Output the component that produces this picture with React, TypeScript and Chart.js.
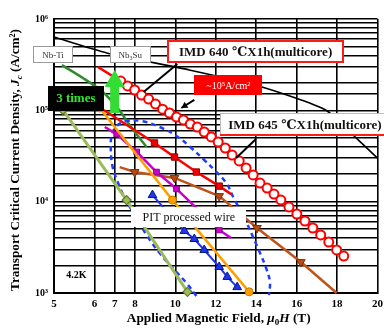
import { useEffect, useRef } from "react";
import { Chart, registerables } from "chart.js";

Chart.register(...registerables);

// ---------- axis ticks ----------
const X_TICK_VALUES = [4, 6, 7, 8, 10, 12, 14, 16, 18, 20];
const X_TICK_LABELS = ["5", "6", "7", "8", "10", "12", "14", "16", "18", "20"];
const Y_TICK_VALUES = [1e3, 1e4, 1e5, 1e6];
const Y_TICK_LABELS = ["10³", "10⁴", "10⁵", "10⁶"];

// ---------- series (B in T, Jc in A/cm2) ----------
const REF_B = [4.0, 6.61, 10.69, 14.28, 17.43, 18.9, 20.0];
const REF_JC = [6.35e5, 4.25e5, 2.77e5, 1.8e5, 1.01e5, 5.1e4, 3.0e4];

const NBTI_B = [4.39, 5.43, 6.41, 7.15, 7.74, 8.23, 8.58];
const NBTI_JC = [3.13e5, 2.26e5, 1.59e5, 1.06e5, 6.9e4, 4.98e4, 3.97e4];

const IMD_B = [6.17, 7.3, 7.64, 7.99, 8.33, 8.68, 9.02, 9.37, 9.71, 10.06, 10.4, 10.74, 11.09, 11.43, 11.78, 12.12, 12.47, 12.81, 13.16, 13.5, 13.85, 14.19, 14.54, 14.88, 15.22, 15.62, 16.01, 16.41, 16.8, 17.19, 17.59, 17.98, 18.33];
const IMD_JC = [2.98e5, 2.09e5, 1.85e5, 1.67e5, 1.47e5, 1.33e5, 1.17e5, 1.03e5, 9.35e4, 8.45e4, 7.84e4, 7.08e4, 6.57e4, 5.79e4, 5.11e4, 4.5e4, 3.87e4, 3.24e4, 2.79e4, 2.34e4, 1.96e4, 1.6e4, 1.41e4, 1.21e4, 1.04e4, 8.75e3, 7.33e3, 6.14e3, 5.15e3, 4.32e3, 3.61e3, 2.96e3, 2.54e3];

const RSQ_B = [6.46, 8.97, 9.96, 11.04, 12.17, 12.76];
const RSQ_JC = [1.01e5, 4.39e4, 3.08e4, 2.11e4, 1.48e4, 1.21e4];

const OLIVE_B = [4.44, 7.59, 10.6];
const OLIVE_JC = [1.01e5, 1.04e4, 1.03e3];

const ORANGE_B = [6.26, 9.86, 13.65];
const ORANGE_JC = [1.06e5, 1.04e4, 1.03e3];

const MAG_B = [6.51, 7.1, 8.09, 9.07, 10.06, 12.17, 12.76];
const MAG_JC = [6.57e4, 5.51e4, 3.5e4, 2.11e4, 1.38e4, 4.9e3, 4.0e3];

const BTRI_B = [8.87, 10.45, 10.94, 11.43, 12.17, 12.57, 13.06];
const BTRI_JC = [1.18e4, 4.78e3, 3.9e3, 2.96e3, 1.93e3, 1.5e3, 1.16e3];

const BROWN_B = [7.25, 7.99, 9.96, 12.17, 14.04, 16.21, 17.98];
const BROWN_JC = [2.39e4, 2.11e4, 1.82e4, 1.15e4, 5.15e3, 2.18e3, 1.0e3];

const PIT_LOOP_B = [11.04, 10.55, 9.96, 9.22, 8.58, 7.99, 7.5, 7.15, 6.9, 6.81, 6.86, 7.1, 7.59, 8.33, 9.22, 10.06, 10.79, 11.43, 11.98, 12.52, 12.91, 13.35, 13.8, 14.19, 14.49, 14.68, 14.63];
const PIT_LOOP_JC = [927, 1285, 1786, 2742, 4315, 7145, 1.1e4, 1.64e4, 2.4e4, 3.68e4, 5.37e4, 6.73e4, 7.64e4, 7.64e4, 6.57e4, 5.24e4, 3.87e4, 2.86e4, 2.17e4, 1.6e4, 1.07e4, 7145, 4315, 2742, 1879, 1318, 950];

// ---------- annotations (data coordinates) ----------
const SERIF = "'Liberation Serif', 'Times New Roman', 'DejaVu Serif', serif";

const LABEL_BOXES = [
  { text: "Nb-Ti", x: 3.95, y: 4.08e5, w: 40, h: 17, fill: "#ffffff", stroke: "#9a9a9a", lw: 1, color: "#333333", font: `9px ${SERIF}` },
  { text: "Nb₃Su", x: 7.77, y: 4.08e5, w: 41, h: 17, fill: "#ffffff", stroke: "#9a9a9a", lw: 1, color: "#333333", font: `9px ${SERIF}` },
  { text: "IMD 640 ℃X1h(multicore)", x: 13.97, y: 4.41e5, w: 177, h: 23, fill: "#ffffff", stroke: "#ff1a1a", lw: 2, color: "#111111", font: `bold 13px ${SERIF}` },
  { text: "~10⁵A/cm²", x: 12.62, y: 1.89e5, w: 68, h: 20, fill: "#ff0000", stroke: "#ff0000", lw: 1, color: "#ffffff", font: `10px ${SERIF}` },
  { text: "IMD 645 ℃X1h(multicore)", x: 16.41, y: 7.0e4, w: 170, h: 23, fill: "#ffffff", stroke: "#bbbbbb", lw: 1, color: "#111111", font: `bold 13px ${SERIF}`, under: "#ff1a1a" },
  { text: "3 times", x: 5.08, y: 1.36e5, w: 56, h: 25, fill: "#000000", stroke: "#000000", lw: 1, color: "#2ee62e", font: `bold 13px ${SERIF}` },
  { text: "PIT processed wire", x: 10.67, y: 6.8e3, w: 115, h: 20, fill: "#ffffff", stroke: "", lw: 0, color: "#111111", font: `12px ${SERIF}` },
];

const POINTER_LINES = [
  { x1: 10.1, y1: 3.21e5, x2: 8.43, y2: 1.59e5, head: false },
  { x1: 10.94, y1: 1.3e5, x2: 10.3, y2: 1.06e5, head: true },
  { x1: 13.99, y1: 4.85e4, x2: 13.01, y2: 3.0e4, head: false },
];

const GREEN_ARROW = { x: 7.0, yBottom: 9.35e4, yTip: 2.77e5 };
const TEMP_LABEL = { text: "4.2K", x: 5.11, y: 1.56e3 };

const zip = (xs: number[], ys: number[]) => xs.map((x, i) => ({ x, y: ys[i] }));
const edgeRadius = (n: number, r: number, skipFirst: boolean, skipLast: boolean) =>
  Array.from({ length: n }, (_, i) => ((skipFirst && i === 0) || (skipLast && i === n - 1) ? 0 : r));

type Part = { t: string; italic?: boolean; sub?: boolean };

function drawRich(ctx: CanvasRenderingContext2D, parts: Part[], cx: number, cy: number, target: number, rotate: boolean) {
  const fontFor = (p: Part, size: number) =>
    `${p.italic ? "italic " : ""}bold ${p.sub ? Math.round(size * 0.7) : size}px ${SERIF}`;
  const measure = (size: number) =>
    parts.reduce((s, p) => {
      ctx.font = fontFor(p, size);
      return s + ctx.measureText(p.t).width;
    }, 0);
  const w12 = measure(12);
  const size = Math.max(9, Math.min(14, (12 * target) / w12));
  const total = measure(size);
  ctx.save();
  ctx.translate(cx, cy);
  if (rotate) ctx.rotate(-Math.PI / 2);
  ctx.textBaseline = "middle";
  ctx.textAlign = "left";
  ctx.fillStyle = "#000";
  let xx = -total / 2;
  for (const p of parts) {
    ctx.font = fontFor(p, size);
    ctx.fillText(p.t, xx, p.sub ? size * 0.3 : 0);
    xx += ctx.measureText(p.t).width;
  }
  ctx.restore();
}

const overlayPlugin = {
  id: "overlay",
  afterDatasetsDraw(chart: any) {
    const ctx: CanvasRenderingContext2D = chart.ctx;
    const xs = chart.scales.x;
    const ys = chart.scales.y;
    const px = (v: number) => xs.getPixelForValue(v);
    const py = (v: number) => ys.getPixelForValue(v);
    ctx.save();

    // pointer lines
    ctx.strokeStyle = "#000";
    ctx.fillStyle = "#000";
    ctx.lineWidth = 2;
    for (const l of POINTER_LINES) {
      const ax = px(l.x1), ay = py(l.y1), bx = px(l.x2), by = py(l.y2);
      ctx.beginPath();
      ctx.moveTo(ax, ay);
      ctx.lineTo(bx, by);
      ctx.stroke();
      if (l.head) {
        const ang = Math.atan2(by - ay, bx - ax);
        const hl = 6, hw = 3.5;
        ctx.beginPath();
        ctx.moveTo(bx, by);
        ctx.lineTo(bx - hl * Math.cos(ang) + hw * Math.sin(ang), by - hl * Math.sin(ang) - hw * Math.cos(ang));
        ctx.lineTo(bx - hl * Math.cos(ang) - hw * Math.sin(ang), by - hl * Math.sin(ang) + hw * Math.cos(ang));
        ctx.closePath();
        ctx.fill();
      }
    }

    // green arrow
    {
      const ax = px(GREEN_ARROW.x);
      const yb = py(GREEN_ARROW.yBottom);
      const yt = py(GREEN_ARROW.yTip);
      const headH = 17, headW = 10, shaftW = 4.5;
      ctx.fillStyle = "#33dd33";
      ctx.beginPath();
      ctx.moveTo(ax - shaftW, yb);
      ctx.lineTo(ax - shaftW, yt + headH);
      ctx.lineTo(ax - headW, yt + headH);
      ctx.lineTo(ax, yt);
      ctx.lineTo(ax + headW, yt + headH);
      ctx.lineTo(ax + shaftW, yt + headH);
      ctx.lineTo(ax + shaftW, yb);
      ctx.closePath();
      ctx.fill();
    }

    // label boxes
    for (const b of LABEL_BOXES) {
      const cx = px(b.x), cy = py(b.y);
      const x0 = Math.round(cx - b.w / 2), y0 = Math.round(cy - b.h / 2);
      ctx.fillStyle = b.fill;
      ctx.fillRect(x0, y0, b.w, b.h);
      if (b.stroke && b.lw) {
        ctx.strokeStyle = b.stroke;
        ctx.lineWidth = b.lw;
        ctx.strokeRect(x0 + b.lw / 2, y0 + b.lw / 2, b.w - b.lw, b.h - b.lw);
      }
      if ((b as any).under) {
        ctx.fillStyle = (b as any).under;
        ctx.fillRect(x0, y0 + b.h - 2, b.w, 2);
      }
      ctx.fillStyle = b.color;
      ctx.font = b.font;
      ctx.textAlign = "center";
      ctx.textBaseline = "middle";
      ctx.fillText(b.text, cx, cy + 1);
    }

    // temperature label
    ctx.fillStyle = "#000";
    ctx.font = `bold 10px ${SERIF}`;
    ctx.textAlign = "center";
    ctx.textBaseline = "middle";
    ctx.fillText(TEMP_LABEL.text, px(TEMP_LABEL.x), py(TEMP_LABEL.y));
    ctx.restore();
  },
  afterDraw(chart: any) {
    const ctx: CanvasRenderingContext2D = chart.ctx;
    const a = chart.chartArea;
    drawRich(
      ctx,
      [
        { t: "Transport Critical Current Density, " },
        { t: "J", italic: true },
        { t: "c", italic: true, sub: true },
        { t: " (A/cm²)" },
      ],
      16,
      (a.top + a.bottom) / 2 + 4,
      262,
      true
    );
    drawRich(
      ctx,
      [
        { t: "Applied Magnetic Field, " },
        { t: "μ", italic: true },
        { t: "0", sub: true },
        { t: "H", italic: true },
        { t: " (T)" },
      ],
      (a.left + a.right) / 2 + 3,
      319,
      184,
      false
    );
  },
};

export default function App() {
  const ref = useRef<HTMLCanvasElement | null>(null);
  useEffect(() => {
    if (!ref.current) return;
    const common = { showLine: true, clip: 8, pointHoverRadius: 0 };
    const chart = new Chart(ref.current, {
      type: "scatter",
      data: {
        datasets: [
          {
            ...common,
            label: "IMD",
            data: zip(IMD_B, IMD_JC),
            borderColor: "#ff0000",
            borderWidth: 2.5,
            pointRadius: edgeRadius(IMD_B.length, 4.5, true, false),
            pointBorderWidth: 2,
            pointBorderColor: "#ff0000",
            pointBackgroundColor: "#ffffff",
          },
          {
            ...common,
            label: "orange",
            data: zip(ORANGE_B, ORANGE_JC),
            borderColor: "#ffa000",
            borderWidth: 2.5,
            pointRadius: 4,
            pointBorderWidth: 1,
            pointBorderColor: "#c87800",
            pointBackgroundColor: "#ffa000",
          },
          {
            ...common,
            label: "olive",
            data: zip(OLIVE_B, OLIVE_JC),
            borderColor: "#9bbb59",
            borderWidth: 3,
            pointStyle: "rectRot",
            pointRadius: 4.5,
            pointBorderWidth: 1.2,
            pointBorderColor: "#5f7a2a",
            pointBackgroundColor: "#9bbb59",
          },
          {
            ...common,
            label: "magenta",
            data: zip(MAG_B, MAG_JC),
            borderColor: "#cc00cc",
            borderWidth: 2.5,
            pointStyle: "rect",
            pointRadius: edgeRadius(MAG_B.length, 4, true, true),
            pointBorderWidth: 1,
            pointBorderColor: "#880088",
            pointBackgroundColor: "#cc00cc",
          },
          {
            ...common,
            label: "red squares",
            data: zip(RSQ_B, RSQ_JC),
            borderColor: "#ff0000",
            borderWidth: 2.5,
            pointStyle: "rect",
            pointRadius: edgeRadius(RSQ_B.length, 4.5, true, true),
            pointBorderWidth: 1,
            pointBorderColor: "#990000",
            pointBackgroundColor: "#ee0000",
          },
          {
            ...common,
            label: "blue triangles",
            data: zip(BTRI_B, BTRI_JC),
            borderColor: "#2233ee",
            borderWidth: 2,
            pointStyle: "triangle",
            pointRadius: 5,
            pointBorderWidth: 1,
            pointBorderColor: "#001a80",
            pointBackgroundColor: "#2233ee",
          },
          {
            ...common,
            label: "brown",
            data: zip(BROWN_B, BROWN_JC),
            borderColor: "#c0531a",
            borderWidth: 2.5,
            pointStyle: "triangle",
            pointRotation: 180,
            pointRadius: edgeRadius(BROWN_B.length, 5, true, true),
            pointBorderWidth: 1,
            pointBorderColor: "#7a3005",
            pointBackgroundColor: "#b84a10",
          },
          {
            ...common,
            label: "PIT loop",
            data: zip(PIT_LOOP_B, PIT_LOOP_JC),
            borderColor: "#1f3cff",
            borderWidth: 2.5,
            borderDash: [5, 4],
            tension: 0.4,
            pointRadius: 0,
          },
          {
            ...common,
            label: "Nb-Ti",
            data: zip(NBTI_B, NBTI_JC),
            borderColor: "#2e8b2e",
            borderWidth: 2.5,
            tension: 0.3,
            pointRadius: 0,
          },
          {
            ...common,
            label: "Nb3Sn",
            data: zip(REF_B, REF_JC),
            borderColor: "#000000",
            borderWidth: 1.6,
            tension: 0.2,
            pointRadius: 0,
          },
        ],
      },
      options: {
        animation: false,
        responsive: false,
        events: [],
        layout: { padding: { left: 0, right: 5, top: 19, bottom: 0 } },
        plugins: { legend: { display: false }, tooltip: { enabled: false }, title: { display: false } },
        scales: {
          x: {
            type: "linear",
            min: 4,
            max: 20,
            afterBuildTicks: (axis: any) => {
              axis.ticks = X_TICK_VALUES.map((v) => ({ value: v }));
            },
            afterFit: (s: any) => {
              s.height = 36;
              s.paddingLeft = 0;
              s.paddingRight = 0;
            },
            grid: { color: "#000", lineWidth: 1.6, drawTicks: false },
            border: { color: "#000", width: 2 },
            ticks: {
              autoSkip: false,
              maxRotation: 0,
              padding: 5,
              color: "#000",
              font: { family: SERIF, weight: "bold", size: 11 },
              callback: (v: any) => {
                const i = X_TICK_VALUES.indexOf(Number(v));
                return i >= 0 ? X_TICK_LABELS[i] : "";
              },
            },
          },
          y: {
            type: "logarithmic",
            min: 1e3,
            max: 1e6,
            afterFit: (s: any) => {
              s.width = 54;
              s.paddingTop = 0;
              s.paddingBottom = 0;
            },
            grid: { color: "#000", lineWidth: 1.6, drawTicks: false },
            border: { color: "#000", width: 2 },
            ticks: {
              autoSkip: false,
              padding: 6,
              color: "#000",
              font: { family: SERIF, weight: "bold", size: 10 },
              callback: (v: any) => {
                const i = Y_TICK_VALUES.findIndex((t) => Math.abs(t - Number(v)) < 1e-6 * t);
                return i >= 0 ? Y_TICK_LABELS[i] : "";
              },
            },
          },
        },
      } as any,
      plugins: [overlayPlugin],
    });
    return () => chart.destroy();
  }, []);

  return (
    <div style={{ position: "fixed", left: 0, top: 0, width: 384, height: 329, background: "#fff" }}>
      <canvas ref={ref} width={384} height={329} style={{ width: 384, height: 329, display: "block" }} />
    </div>
  );
}
